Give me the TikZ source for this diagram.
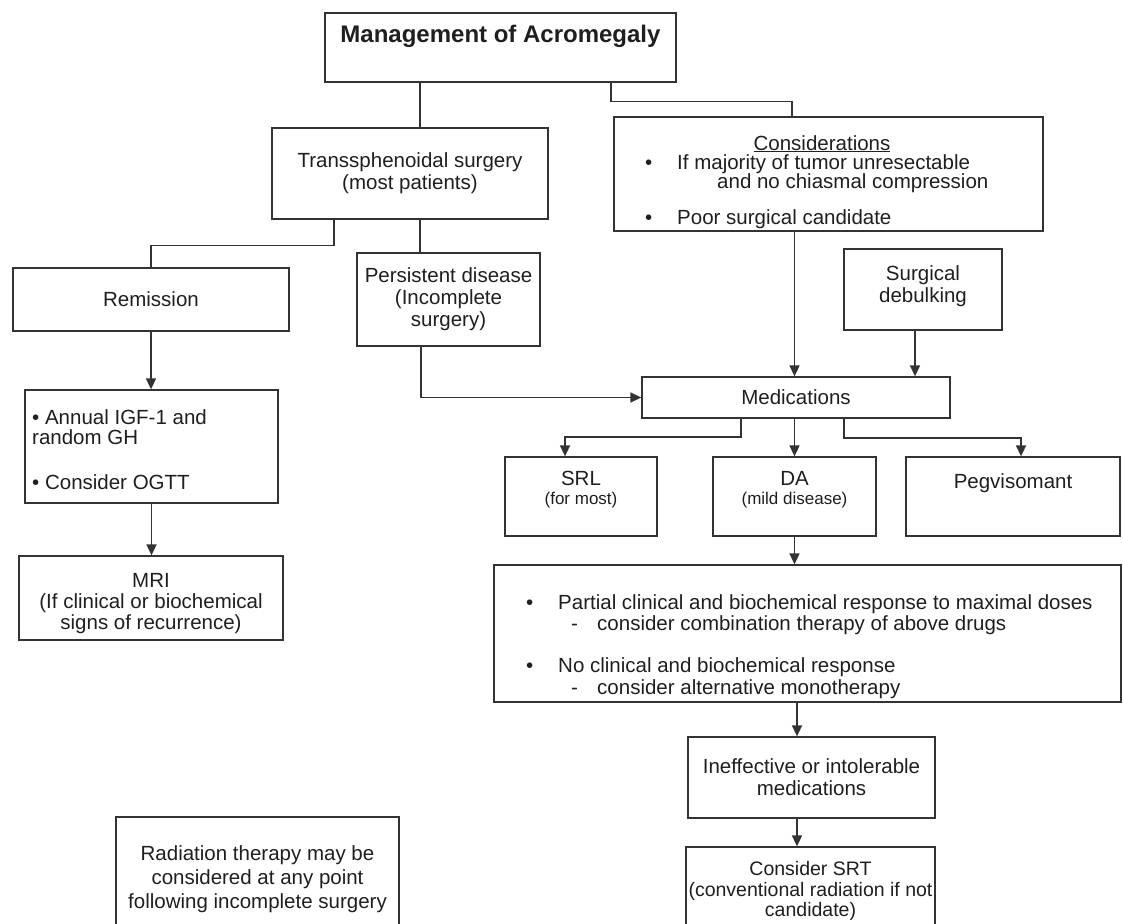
\documentclass[tikz,border=0pt]{standalone}
\usepackage{fontspec}
\setmainfont{Liberation Sans}
\usetikzlibrary{arrows.meta}
\definecolor{linec}{gray}{0.2}
\definecolor{textc}{gray}{0.12}
\begin{document}
\begin{tikzpicture}[x=1pt,y=-1pt,
  box/.style={draw=linec,line width=1.3pt,rectangle,inner sep=0pt,align=center,text=textc,font=\fontsize{20.5}{22}\selectfont},
  txt/.style={inner sep=0pt,align=center,text=textc,font=\fontsize{20.5}{22}\selectfont},
  small/.style={inner sep=0pt,align=center,text=textc,font=\fontsize{17}{20}\selectfont},
  conn/.style={draw=linec,line width=1.6pt},
  arr/.style={conn,-{Triangle[length=11pt,width=10pt]}}]
\clip (0,0) rectangle (1123,923);
\fill[white] (0,0) rectangle (1123,923);

% boxes
\node[box,minimum width=351,minimum height=69] (title) at (500.5,47.5) {};
\node[txt,font=\bfseries\fontsize{24}{28}\selectfont] (titletxt) at (500.5,36) {Management of Acromegaly};

\node[box,minimum width=276,minimum height=91] (trans) at (410,173.5) {Transsphenoidal surgery\\(most patients)};

\node[box,minimum width=429,minimum height=114] (cons) at (828.5,174) {};
\node[txt,anchor=base] (constitle) at (822,150) {\underline{Considerations}};
\node[txt,anchor=base west] (cb1) at (645,169) {•};
\node[txt,anchor=base west] (ct1) at (677,169) {If majority of tumor unresectable};
\node[txt,anchor=base west] (ct2) at (717,188) {and no chiasmal compression};
\node[txt,anchor=base west] (cb2) at (645,224) {•};
\node[txt,anchor=base west] (ct3) at (677,224) {Poor surgical candidate};

\node[box,minimum width=276,minimum height=63] (rem) at (151,299.5) {Remission};
\node[box,minimum width=183,minimum height=93] (pers) at (448.5,299.5) {Persistent disease\\(Incomplete\\surgery)};
\node[box,minimum width=158,minimum height=81] (debulk) at (923,289.5) {};
\node[txt] (debulktxt) at (923,286) {Surgical\\debulking};
\node[box,minimum width=308,minimum height=41] (med) at (796,397.5) {Medications};

\node[box,minimum width=253,minimum height=113] (annual) at (151.5,446.5) {};
\node[txt,anchor=base west] (a1) at (32,424) {• Annual IGF-1 and};
\node[txt,anchor=base west] (a2) at (32,444) {random GH};
\node[txt,anchor=base west] (a3) at (32,489) {• Consider OGTT};

\node[box,minimum width=152,minimum height=79] (srl) at (581,496.5) {};
\node[txt] (srlt) at (581,478) {SRL};
\node[small] (srls) at (581,500) {(for most)};
\node[box,minimum width=163,minimum height=79] (da) at (794.5,496.5) {};
\node[txt] (dat) at (794.5,478) {DA};
\node[small] (das) at (794.5,500) {(mild disease)};
\node[box,minimum width=214,minimum height=79] (peg) at (1013,496.5) {};
\node[txt] (pegt) at (1013,483) {Pegvisomant};

\node[box,minimum width=264,minimum height=84] (mri) at (151,598) {};
\node[txt,font=\fontsize{20.5}{21}\selectfont] (mrit) at (151,604) {MRI\\(If clinical or biochemical\\signs of recurrence)};

\node[box,minimum width=627,minimum height=137] (big) at (807.5,633.5) {};
\node[txt,anchor=base west] (bb1) at (526,609) {•};
\node[txt,anchor=base west] (bt1) at (558,609) {Partial clinical and biochemical response to maximal doses};
\node[txt,anchor=base west] (bd1) at (571,630) {-};
\node[txt,anchor=base west] (bt2) at (597,630) {consider combination therapy of above drugs};
\node[txt,anchor=base west] (bb2) at (526,672) {•};
\node[txt,anchor=base west] (bt3) at (558,672) {No clinical and biochemical response};
\node[txt,anchor=base west] (bd2) at (571,694) {-};
\node[txt,anchor=base west] (bt4) at (597,694) {consider alternative monotherapy};

\node[box,minimum width=247,minimum height=81] (ineff) at (811.5,777.5) {Ineffective or intolerable\\medications};
\node[box,minimum width=249,minimum height=100] (srt) at (810.5,897) {};
\node[txt,font=\fontsize{19.5}{20.5}\selectfont] (srtt) at (810.5,891) {Consider SRT\\(conventional radiation if not\\candidate)};
\node[box,minimum width=283,minimum height=123] (rad) at (257.5,878.5) {};
\node[txt,font=\fontsize{20.5}{24}\selectfont] (radt) at (257.5,879) {Radiation therapy may be\\considered at any point\\following incomplete surgery};

% connectors
\draw[conn] ([xshift=-80.5]title.south) -- ([xshift=10]trans.north);
\draw[conn] ([xshift=110.5]title.south) -- ++(0,19) -| ([xshift=-36.5]cons.north);
\draw[conn] ([xshift=-76]trans.south) -- ++(0,26) -| (rem.north);
\draw[conn] ([xshift=10]trans.south) -- ([xshift=-28.5]pers.north);
\draw[arr] (rem.south) -- (rem.south |- annual.north);
\draw[arr] (annual.south) -- (annual.south |- mri.north);
\draw[arr] ([xshift=-27.5]pers.south) |- (med.west);
\draw[arr] (cons.south -| da.north) -- (med.north -| da.north);
\draw[arr] ([xshift=-8]debulk.south) -- ([xshift=-8]debulk.south |- med.north);
\draw[arr] ([xshift=-55]med.south) -- ++(0,18.5) -| ([xshift=-16]srl.north);
\draw[arr] (med.south -| da.north) -- (da.north);
\draw[arr] ([xshift=48]med.south) -- ++(0,19.5) -| ([xshift=8]peg.north);
\draw[arr] (da.south) -- (da.south |- big.north);
\draw[arr] ([xshift=-10.5]big.south) -- ([xshift=-10.5]big.south |- ineff.north);
\draw[arr] ([xshift=-14.5]ineff.south) -- ([xshift=-14.5]ineff.south |- srt.north);
\end{tikzpicture}
\end{document}
